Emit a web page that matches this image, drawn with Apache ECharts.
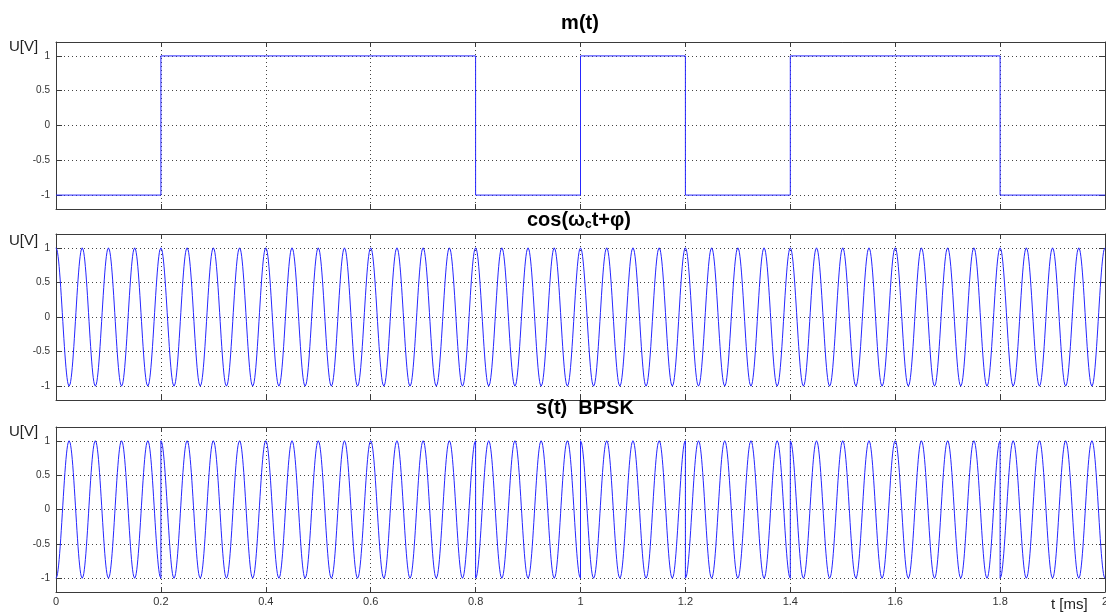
<!DOCTYPE html>
<html>
<head>
<meta charset="utf-8">
<script src="https://cdn.jsdelivr.net/npm/echarts@6/dist/echarts.min.js"></script>
<style>html,body{margin:0;padding:0;background:#fff;}#c{width:1106px;height:615px;}</style>
</head>
<body>
<div id="c"></div>
<script>
// ---- data ----
const bitLevels = [-1, 1, 1, 1, -1, 1, -1, 1, 1, -1];   // m(t) level per bit
const bitDuration = [0.2];                               // ms per bit
const carrierFreq = [20];                                // cycles per ms (period 0.05 ms)
const carrierPhase = [0];                                // rad
const xTicks = [0, 0.2, 0.4, 0.6, 0.8, 1, 1.2, 1.4, 1.6, 1.8, 2];
const yTicks = [-1, -0.5, 0, 0.5, 1];
const panelTitles = ['m(t)', 'cos', 's(t)  BPSK'];

// ---- build series ----
const Tb = bitDuration[0], fc = carrierFreq[0], ph = carrierPhase[0];
const step = 0.001;
const mData = [], cData = [], sData = [];
bitLevels.forEach((lv, i) => {
  const t0 = i * Tb, t1 = (i + 1) * Tb;
  mData.push([t0, lv], [t1, lv]);
  const n = Math.round(Tb / step);
  for (let k = 0; k <= n; k++) {
    const t = +(t0 + k * step).toFixed(6);
    const c = Math.cos(2 * Math.PI * fc * t + ph);
    cData.push([t, c]);
    sData.push([t, lv * c]);
  }
});

const grids = [
  {left: 56, top: 42, width: 1049, height: 167, outerBoundsMode: 'none', containLabel: false},
  {left: 56, top: 234, width: 1049, height: 166, outerBoundsMode: 'none', containLabel: false},
  {left: 56, top: 427, width: 1049, height: 165, outerBoundsMode: 'none', containLabel: false}
];
const frame = '#3a3a3a';
const font = 'Liberation Sans, Arial, sans-serif';
const xAxis = [], yAxis = [];
grids.forEach((g, i) => {
  const base = {
    gridIndex: i, type: 'value', min: 0, max: 2, interval: 0.2,
    axisLine: {show: true, onZero: false, lineStyle: {color: frame, width: 1}},
    axisTick: {show: true, inside: true, length: 5, lineStyle: {color: frame}}
  };
  xAxis.push(Object.assign({}, base, {
    position: 'bottom',
    axisLabel: {show: i === 2, color: '#333', fontSize: 11, fontFamily: font, margin: 4,
      customValues: xTicks, showMaxLabel: true, hideOverlap: false},
    splitLine: {show: true, lineStyle: {color: '#444', type: [1, 3], width: 1}}
  }));
  xAxis.push(Object.assign({}, base, {
    position: 'top', axisLabel: {show: false}, splitLine: {show: false}
  }));
  const ybase = {
    gridIndex: i, type: 'value', min: -1.2, max: 1.2,
    axisLine: {show: true, onZero: false, lineStyle: {color: frame, width: 1}},
    axisTick: {show: true, inside: true, length: 6, customValues: yTicks, lineStyle: {color: frame}}
  };
  yAxis.push(Object.assign({}, ybase, {
    position: 'left',
    axisLabel: {show: true, color: '#333', fontSize: 10, fontFamily: font, margin: 6, customValues: yTicks},
    splitLine: {show: true, lineStyle: {color: '#444', type: [1, 3], width: 1}}
  }));
  yAxis.push(Object.assign({}, ybase, {
    position: 'right', axisLabel: {show: false}, splitLine: {show: false}
  }));
});

const lineStyle = {color: '#2626ff', width: 1};
const mkSeries = (data, i) => ({
  type: 'line', data: data, xAxisIndex: i * 2, yAxisIndex: i * 2,
  showSymbol: false, symbol: 'none', lineStyle: lineStyle, animation: false, z: 3, clip: true
});

const titleStyle = {fontSize: 20, fontWeight: 'bold', color: '#000', fontFamily: font};
const option = {
  backgroundColor: '#fff',
  animation: false,
  grid: grids,
  xAxis: xAxis,
  yAxis: yAxis,
  title: [
    {text: panelTitles[0], left: 580, top: 13, textAlign: 'center', textStyle: titleStyle},
    {text: '{a|cos(ω}{b|c}{a|t+φ)}', left: 579, top: 209, textAlign: 'center',
      textStyle: Object.assign({}, titleStyle, {rich: {
        a: {fontSize: 20, fontWeight: 'bold', fontFamily: font, color: '#000'},
        b: {fontSize: 12, fontWeight: 'bold', fontFamily: font, color: '#000', padding: [10, 0, 0, 0]}
      }})},
    {text: panelTitles[2], left: 585, top: 398, textAlign: 'center', textStyle: titleStyle},
    {text: 'U[V]', left: 9, top: 39, textStyle: {fontSize: 15, fontWeight: 'normal', color: '#222', fontFamily: font}},
    {text: 'U[V]', left: 9, top: 233, textStyle: {fontSize: 15, fontWeight: 'normal', color: '#222', fontFamily: font}},
    {text: 'U[V]', left: 9, top: 424, textStyle: {fontSize: 15, fontWeight: 'normal', color: '#222', fontFamily: font}},
    {text: 't [ms]', left: 1051, top: 597, textStyle: {fontSize: 15, fontWeight: 'normal', color: '#222', fontFamily: font}}
  ].map(t => Object.assign({padding: 0}, t)),
  series: [mkSeries(mData, 0), mkSeries(cData, 1), mkSeries(sData, 2)]
};
const chart = echarts.init(document.getElementById('c'), null, {renderer: 'canvas'});
chart.setOption(option);
</script>
</body>
</html>
